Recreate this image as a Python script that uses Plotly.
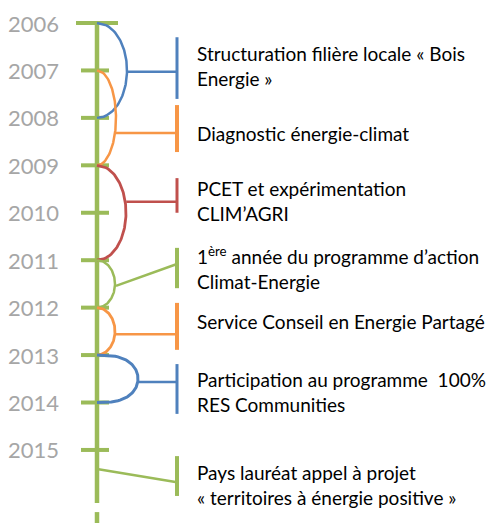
import numpy as np
import plotly.graph_objects as go

# ---------------- data ----------------
years = [2006, 2007, 2008, 2009, 2010, 2011, 2012, 2013, 2014, 2015]
year_labels = [str(y) for y in years]

event_labels = [
    "Structuration filière locale « Bois<br>Energie »",
    "Diagnostic énergie-climat",
    "PCET et expérimentation<br>CLIM’AGRI",
    "1<sup>ère</sup> année du programme d’action<br>Climat-Energie",
    "Service Conseil en Energie Partagé",
    "Participation au programme  100%<br>RES Communities",
    "Pays lauréat appel à projet<br>« territoires à énergie positive »",
]
event_start = [2006, 2007, 2009, 2011, 2012, 2013, 2015]
event_end = [2008, 2009, 2011, 2012, 2013, 2014, 2015]

# ---------------- styles / layout ----------------
BLUE, ORANGE, RED, GREEN = "#4F81BD", "#F79646", "#C0504D", "#9BBB59"
event_colors = [BLUE, ORANGE, RED, GREEN, ORANGE, BLUE, GREEN]
GRAY = "#A6A6A6"
FONT = "Lato"

AXIS_X = 97
BAR_X = 177
TEXT_X = 195
YEAR_X = 61

brace_width = [30, 19, 29, 18, 18, 41, 0]
brace_power = [1.0, 1.0, 1.0, 1.0, 1.0, 0.7, 1.0]
brace_lw = [2.5, 2.5, 2.8, 2.5, 2.8, 3, 2.5]
# connector: (year at brace side, year at bar side)
conn_from = [2007.03, 2008.32, 2009.77, 2011.54, 2012.56, 2013.57, 2015.40]
conn_to = [2007.03, 2008.32, 2009.77, 2011.08, 2012.56, 2013.57, 2015.68]
bar_top = [2006.30, 2007.73, 2009.27, 2010.74, 2011.90, 2013.19, 2015.13]
bar_bot = [2007.60, 2008.72, 2010.00, 2011.59, 2012.89, 2014.24, 2015.97]
bar_lw = [3, 4, 3, 4, 4, 3, 4]
label_y = [2006.91, 2008.32, 2009.75, 2011.16, 2012.30, 2013.78, 2015.74]

FIG_W, FIG_H = 488, 523
X_RANGE = [0, 488]
Y_TOP, Y_BOT = 2005.515, 2016.54

fig = go.Figure()


def line(xs, ys, color, width):
    fig.add_trace(go.Scatter(x=xs, y=ys, mode="lines",
                             line=dict(color=color, width=width),
                             hoverinfo="skip", showlegend=False))


# timeline
line([AXIS_X, AXIS_X], [years[0], 2016.12], GREEN, 4.5)
line([AXIS_X, AXIS_X], [2016.31, 2016.8], GREEN, 4.5)
for i, y in enumerate(years):
    half = 19 if i == 0 else 14
    line([AXIS_X - half - 2, AXIS_X + half - 2 + (4 if i == 0 else 0)], [y, y], GREEN, 4)


def brace_x(y, a, b, w, p):
    s = 2 * (y - a) / (b - a) - 1
    return AXIS_X + w * np.clip(1 - s ** 2, 0, 1) ** (0.5 * p)


for i in range(len(event_labels)):
    a, b, c = event_start[i], event_end[i], event_colors[i]
    w, p = brace_width[i], brace_power[i]
    if b > a:
        ys = np.linspace(a, b, 80)
        xs = brace_x(ys, a, b, w, p)
        line(xs, ys, c, brace_lw[i])
        x0 = float(brace_x(conn_from[i], a, b, w, p)) + 1
    else:
        x0 = AXIS_X
    line([x0, BAR_X], [conn_from[i], conn_to[i]], c, 2.5)
    line([BAR_X, BAR_X], [bar_top[i], bar_bot[i]], c, bar_lw[i])
    fig.add_annotation(x=TEXT_X, y=label_y[i], xref="x", yref="y",
                       text=event_labels[i], showarrow=False,
                       xanchor="left", yanchor="middle", align="left",
                       font=dict(family=FONT, size=19, color="#000000"))

for y, t in zip(years, year_labels):
    fig.add_annotation(x=YEAR_X, y=y, xref="x", yref="y", text=t,
                       showarrow=False, xanchor="right", yanchor="middle",
                       font=dict(family=FONT, size=22, color=GRAY))

fig.update_layout(
    width=FIG_W, height=FIG_H,
    margin=dict(l=0, r=0, t=0, b=0),
    paper_bgcolor="white", plot_bgcolor="white",
    xaxis=dict(range=X_RANGE, visible=False, fixedrange=True),
    yaxis=dict(range=[Y_BOT, Y_TOP], visible=False, fixedrange=True),
    showlegend=False,
)

fig.write_html(
    "out.html",
    config={"displayModeBar": False},
    post_script="document.body.style.margin='0';document.body.style.overflow='hidden';",
)
